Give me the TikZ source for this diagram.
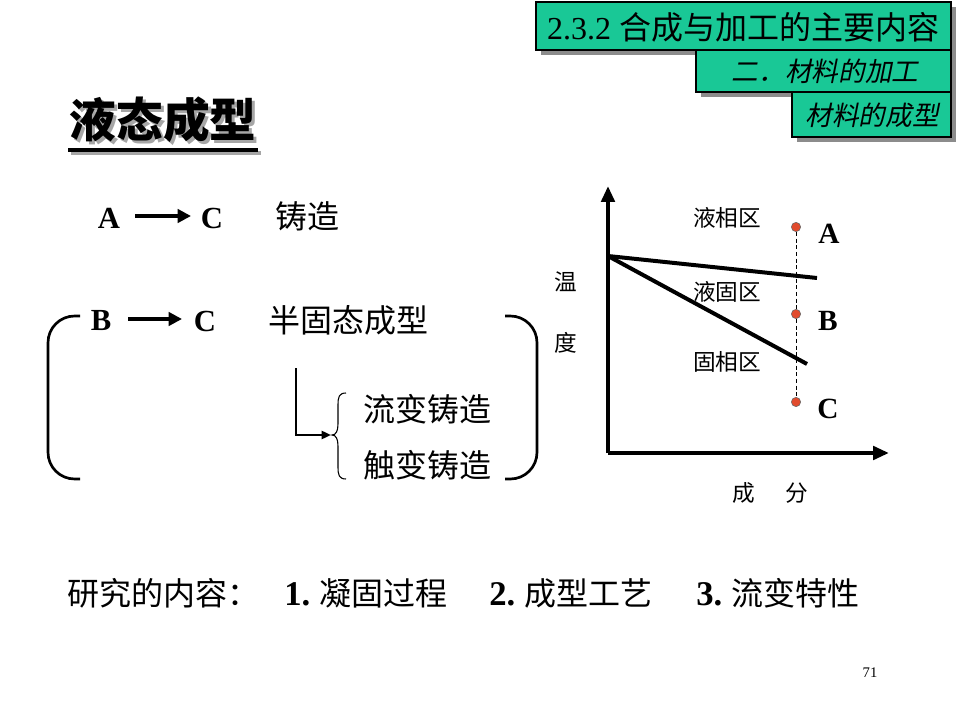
\documentclass[tikz,border=0pt]{standalone}
\usepackage{fontspec}
\setmainfont{Liberation Serif}
\newfontfamily\cjk{Noto Sans CJK SC}
\newfontfamily\cjkit[FakeSlant=0.2]{Noto Sans CJK SC}
\usetikzlibrary{arrows.meta}
\definecolor{hdr}{RGB}{25,200,150}
\definecolor{dotred}{RGB}{225,75,45}
\tikzset{
  hdrbox/.style={fill=hdr,draw=black,line width=1.5pt},
  hdrshadow/.style={fill=black!45,draw=none},
  main/.style={font=\cjk\fontsize{24}{28}\selectfont,inner sep=0pt},
  letter/.style={font=\bfseries\fontsize{23}{26}\selectfont,inner sep=0pt},
  glabel/.style={font=\cjk\fontsize{17}{20}\selectfont,inner sep=0pt},
  gletter/.style={font=\bfseries\fontsize{22}{24}\selectfont,inner sep=0pt},
  thickarrow/.style={line width=2.8pt,-{Triangle[length=10pt,width=10pt]}},
  axis/.style={line width=3pt,-{Triangle[length=12pt,width=10pt]}},
  curve/.style={line width=3pt},
  bracket/.style={line width=2pt,rounded corners=20pt},
  reddot/.style={circle,fill=dotred,draw=black!60,line width=0.4pt,minimum size=7pt,inner sep=0pt},
}
\begin{document}
\begin{tikzpicture}[x=0.75pt,y=-0.75pt]
\useasboundingbox (0,0) rectangle (960,720);
\fill[white] (0,0) rectangle (960,720);
% header boxes
\fill[hdrshadow] (541,7) rectangle (956,55);
\fill[hdrshadow] (701,54) rectangle (956,97);
\fill[hdrshadow] (797,97) rectangle (956,142);
\draw[hdrbox] (536,2) rectangle (951,50);
\draw[hdrbox] (696,50) rectangle (951,92);
\draw[hdrbox] (792,92) rectangle (951,137);
\node[inner sep=0pt,font=\fontsize{24}{28}\selectfont] (h1) at (743,27) {2.3.2 {\cjk 合成与加工的主要内容}};
\node[inner sep=0pt,font=\cjkit\fontsize{20}{24}\selectfont] (h2) at (825,71) {二．材料的加工};
\node[inner sep=0pt,font=\cjkit\fontsize{20}{24}\selectfont] (h3) at (872,115) {材料的成型};
% title (with shadow)
\node[inner sep=0pt,font=\cjk\bfseries\fontsize{35}{40}\selectfont,text=black!35] (titleshadow) at (166,123) {液态成型};
\node[inner sep=0pt,font=\cjk\bfseries\fontsize{35}{40}\selectfont] (title) at (163,120) {液态成型};
\draw[line width=3pt,black!35] (71,153) -- (261,153);
\draw[line width=3pt] (68,150) -- (258,150);
% row A -> C
\node[letter] (a1) at (109,218) {A};
\node[letter] (c1) at (212,218) {C};
\node[main] (zz) at (307,216) {铸造};
\coordinate (a1s) at (135,216);
\coordinate (a1e) at (191,216);
\draw[thickarrow] (a1s) -- (a1e);
% row B -> C
\node[letter] (b2) at (101,321) {B};
\node[letter] (c2) at (205,321) {C};
\node[main] (bgt) at (348,320) {半固态成型};
\coordinate (b2s) at (128,319);
\coordinate (b2e) at (182,319);
\draw[thickarrow] (b2s) -- (b2e);
% brackets
\draw[bracket] (80,316) coordinate (lb1) -| (48,398) |- (80,479) coordinate (lb2);
\draw[bracket] (505,316) coordinate (rb1) -| (537,398) |- (505,479) coordinate (rb2);
% L connector
\coordinate (lc1) at (296,368);
\coordinate (lc2) at (296,435);
\coordinate (lc3) at (331,435);
\draw[line width=1.8pt,-{Triangle[length=7pt,width=6pt]}] (lc1) -- (lc2) -- (lc3);
% small brace
\draw[line width=0.8pt] (346,393) .. controls (339,393) and (338,397) .. (338,405) -- (338,424) .. controls (338,431) and (336,435) .. (332,435) .. controls (336,435) and (338,439) .. (338,446) -- (338,467) .. controls (338,475) and (339,479) .. (346,479);
\node[main] (lb) at (427,409) {流变铸造};
\node[main] (cb) at (427,465) {触变铸造};
% graph
\coordinate (o) at (608,453);
\coordinate (ytop) at (608,186);
\coordinate (xend) at (889,453);
\draw[axis] (o) -- (ytop);
\draw[axis] (o) -- (xend);
\coordinate (p0) at (608,256);
\coordinate (liq) at (817,278);
\coordinate (sol) at (807,364);
\draw[curve] (p0) -- (liq);
\draw[curve] (p0) -- (sol);
\node[reddot] (dA) at (796,227) {};
\node[reddot] (dB) at (796,314) {};
\node[reddot] (dC) at (796,402) {};
\draw[line width=0.7pt,dash pattern=on 3pt off 2pt] (dA) -- (dB) -- (dC);
\node[gletter] (gA) at (829,234) {A};
\node[gletter] (gB) at (828,321) {B};
\node[gletter] (gC) at (828,409) {C};
\node[glabel] (l1) at (727,218) {液相区};
\node[glabel] (l2) at (727,292) {液固区};
\node[glabel] (l3) at (727,362) {固相区};
\node[glabel] (wd1) at (566,282) {温};
\node[glabel] (wd2) at (566,343) {度};
\node[glabel] (cf1) at (744,493) {成};
\node[glabel] (cf2) at (797,493) {分};
% bottom line
\node[main,anchor=west] (yj) at (67,593) {研究的内容：};
\node[main,anchor=west] (i1) at (284,593) {{\bfseries\rmfamily\fontsize{26}{28}\selectfont 1.} 凝固过程};
\node[main,anchor=west] (i2) at (489,593) {{\bfseries\rmfamily\fontsize{26}{28}\selectfont 2.} 成型工艺};
\node[main,anchor=west] (i3) at (696,593) {{\bfseries\rmfamily\fontsize{26}{28}\selectfont 3.} 流变特性};
% page number
\node[inner sep=0pt,font=\fontsize{11}{13}\selectfont] (pg) at (870,673) {71};
\end{tikzpicture}
\end{document}
